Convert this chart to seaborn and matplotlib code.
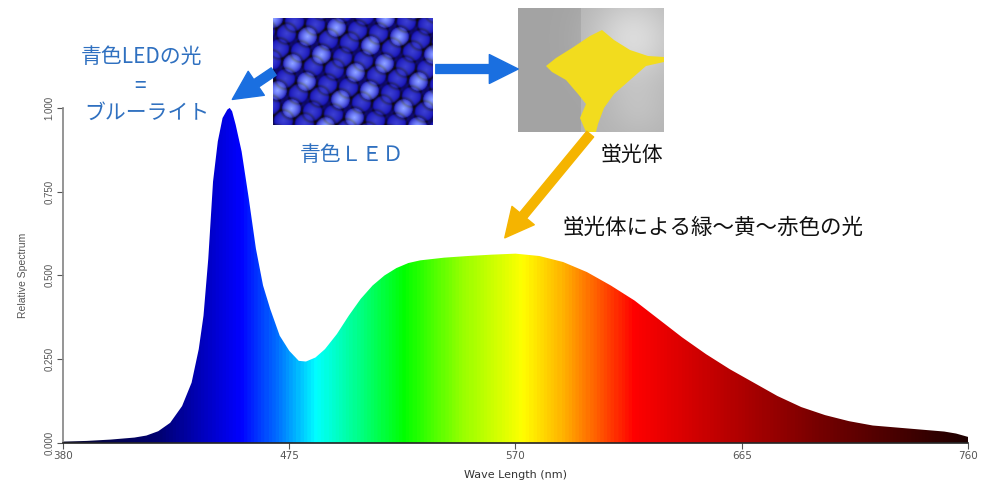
import matplotlib
matplotlib.use("Agg")
import matplotlib.pyplot as plt
from matplotlib.colors import LinearSegmentedColormap
from matplotlib.patches import FancyArrowPatch, Polygon
import numpy as np
import seaborn as sns

# white LED spectrum
wavelength = [380, 390, 400, 410, 415, 420, 425, 430, 434, 437, 439, 441, 443, 445,
              447, 449, 450, 451, 452.5, 455, 458, 461, 464, 467, 471, 475, 479, 482,
              486, 490, 495, 500, 505, 510, 515, 520, 525, 530, 540, 550, 560, 570, 580,
              590, 600, 610, 620, 630, 640, 650, 660, 670, 680, 690, 700, 710, 720,
              730, 740, 750, 755, 760]
spectrum = [0.004, 0.006, 0.010, 0.016, 0.022, 0.035, 0.06, 0.11, 0.18, 0.28, 0.38, 0.55, 0.78, 0.90,
            0.97, 0.995, 1.0, 0.99, 0.95, 0.87, 0.73, 0.58, 0.47, 0.40, 0.32, 0.275, 0.245, 0.243,
            0.255, 0.28, 0.325, 0.38, 0.43, 0.47, 0.50, 0.522, 0.537, 0.545, 0.553, 0.558, 0.562, 0.565, 0.558,
            0.54, 0.51, 0.47, 0.425, 0.37, 0.315, 0.265, 0.22, 0.18, 0.14, 0.107, 0.083, 0.065, 0.052,
            0.046, 0.040, 0.034, 0.028, 0.018]

x_ticks = [380, 475, 570, 665, 760]
y_ticks = [0.0, 0.25, 0.5, 0.75, 1.0]
y_tick_labels = ["0.000", "0.250", "0.500", "0.750", "1.000"]

label_led_light = "青色LEDの光"
label_equal = "="
label_blue_light = "ブルーライト"
label_led = "青色ＬＥＤ"
label_phosphor = "蛍光体"
label_phosphor_light = "蛍光体による緑～黄～赤色の光"

sns.set_theme(style="ticks")
plt.rcParams['font.family'] = ['Noto Sans CJK JP', 'DejaVu Sans']

fig = plt.figure(figsize=(10, 4.96), dpi=100)
ax = fig.add_axes([0.063, 0.107, 0.905, 0.6754])

# rainbow colours along the wavelength axis
stops = [(380, (0.03, 0.03, 0.18)), (420, (0.0, 0.0, 0.45)), (454, (0.0, 0.0, 1.0)),
         (470, (0.0, 0.45, 1.0)), (486, (0.0, 1.0, 1.0)), (505, (0.0, 1.0, 0.5)),
         (523, (0.0, 1.0, 0.0)), (548, (0.6, 1.0, 0.0)), (573, (1.0, 1.0, 0.0)),
         (590, (1.0, 0.7, 0.0)), (620, (1.0, 0.0, 0.0)), (660, (0.72, 0.0, 0.0)),
         (700, (0.45, 0.0, 0.0)), (760, (0.12, 0.0, 0.0))]
cmap = LinearSegmentedColormap.from_list(
    "spec", [((w - 380) / 380, c) for w, c in stops])

fill = ax.fill_between(wavelength, spectrum, 0, color="none", lw=0)
grad = np.linspace(380, 760, 800).reshape(1, -1)
img = ax.imshow(grad, extent=(380, 760, 0, 1.0), aspect="auto", cmap=cmap,
                vmin=380, vmax=760, origin="lower", zorder=1)
img.set_clip_path(fill.get_paths()[0], transform=ax.transData)

ax.set_xlim(380, 760)
ax.set_ylim(0, 1.0)
ax.set_xticks(x_ticks)
ax.set_xticklabels([str(t) for t in x_ticks], fontsize=7.5, color="#333333",
                   family=['Liberation Sans Narrow', 'DejaVu Sans'])
ax.set_yticks(y_ticks)
ax.set_yticklabels(y_tick_labels, fontsize=7, color="#555555", rotation=90, va="center",
                   family=['Liberation Sans', 'DejaVu Sans'])
ax.tick_params(axis="both", length=4, width=0.8, pad=2, colors="#555555")
ax.set_xlabel("Wave Length (nm)", fontsize=8, color="#333333", labelpad=6,
              family=['Liberation Sans Narrow', 'DejaVu Sans'])
ax.set_ylabel("Relative Spectrum", fontsize=7.5, color="#555555", labelpad=12,
              family=['Liberation Sans', 'DejaVu Sans'])
sns.despine(ax=ax)
ax.spines["left"].set_color("#888888")
ax.spines["bottom"].set_color("#222222")
ax.spines["bottom"].set_linewidth(1.2)

# overlay in pixel coordinates for the photos, arrows and notes
ov = fig.add_axes([0, 0, 1, 1], facecolor="none")
ov.set_xlim(0, 1000)
ov.set_ylim(496, 0)
ov.axis("off")

# blue LED photo (drawn stand-in): rows of glowing domes
h, w = 107, 160
yy, xx = np.mgrid[0:h, 0:w]
led = np.zeros((h, w, 3))
led[..., 0], led[..., 1], led[..., 2] = 0.06, 0.04, 0.70
for r in range(-2, 9):
    for c in range(-2, 10):
        cx = c * 21 + (r % 2) * 10 + r * 3
        cy = r * 15 + c * 3
        d = np.sqrt((xx - cx) ** 2 + (yy - cy) ** 2)
        glow = 0.35 + 0.65 * ((r + 2 * c) % 3 == 0)
        b = np.clip(1 - d / 9.5, 0, 1) ** 0.6 * glow
        led[..., 0] += b * 0.50
        led[..., 1] += b * 0.60
        led[..., 2] += b * 0.35
        # dark rim between domes
        rim = np.exp(-((d - 10.5) ** 2) / 2.0) * 0.25
        led[..., 2] -= rim
ov.imshow(np.clip(led, 0, 1), extent=(273, 433, 125, 18), aspect="auto", zorder=2)

# phosphor photo (drawn stand-in)
ph = np.zeros((124, 146, 3))
gy, gx = np.mgrid[0:124, 0:146]
shade = 0.64 + 0.16 * np.exp(-((gx - 115) ** 2 + (gy - 30) ** 2) / 1800.0) \
    + 0.06 * (gx > 62) + 0.05 * np.exp(-((gx - 120) ** 2 + (gy - 100) ** 2) / 900.0)
for k in range(3):
    ph[..., k] = shade
ov.imshow(np.clip(ph, 0, 1), extent=(518, 664, 132, 8), aspect="auto", zorder=2)
ov.add_patch(Polygon([(546, 66), (556, 58), (572, 48), (590, 36), (602, 30), (614, 40),
                      (630, 50), (648, 56), (664, 57), (664, 62), (646, 66), (630, 80),
                      (614, 94), (604, 108), (598, 124), (596, 132), (586, 132), (580, 118),
                      (586, 104), (578, 94), (566, 80), (552, 72)],
                     closed=True, facecolor="#f2dc1e", edgecolor="none", zorder=3))

blue = "#1a6fe0"
ov.add_patch(FancyArrowPatch((276, 70), (230, 101), arrowstyle="simple,head_width=2.6,head_length=2.6,tail_width=0.8",
                             mutation_scale=8, color=blue, zorder=4))
ov.add_patch(FancyArrowPatch((433, 69), (521, 69), arrowstyle="simple,head_width=2.6,head_length=2.6,tail_width=0.8",
                             mutation_scale=8, color=blue, zorder=4))
ov.add_patch(FancyArrowPatch((592, 132), (503, 240), arrowstyle="simple,head_width=2.6,head_length=2.6,tail_width=0.8",
                             mutation_scale=8, color="#f5b400", zorder=4))

text_blue = "#2f70c0"
ov.text(142, 57, label_led_light, fontsize=15, color=text_blue, ha="center", va="center")
ov.text(140, 87, label_equal, fontsize=15, color=text_blue, ha="center", va="center")
ov.text(147, 113, label_blue_light, fontsize=15, color=text_blue, ha="center", va="center")
ov.text(352, 155, label_led, fontsize=15, color=text_blue, ha="center", va="center")
ov.text(632, 155, label_phosphor, fontsize=15, color="#111111", ha="center", va="center")
ov.text(713, 228, label_phosphor_light, fontsize=15.5, color="#111111", ha="center", va="center")

fig.savefig("out.png", dpi=100)
